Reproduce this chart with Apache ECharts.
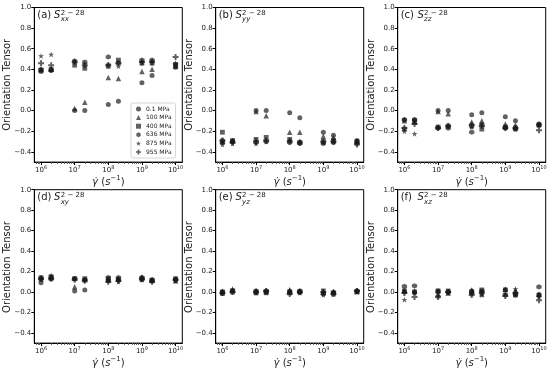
<!DOCTYPE html>
<html><head><meta charset="utf-8">
<script src="https://cdn.jsdelivr.net/npm/echarts@6/dist/echarts.min.js"></script>
<style>html,body{margin:0;padding:0;background:#fff}#c{width:550px;height:369px}</style>
</head><body><div id="c"></div>
<script>
// ---------- data ----------
const rates = [1e6, 2e6, 1e7, 2e7, 1e8, 2e8, 1e9, 2e9, 1e10];
const pressures = ['0.1 MPa', '100 MPa', '400 MPa', '636 MPa', '875 MPa', '955 MPa'];
const xTickExponents = [6, 7, 8, 9, 10];
const yTicks = [-0.4, -0.2, 0.0, 0.2, 0.4, 0.6, 0.8, 1.0];
const panelLabels = ['(a)', '(b)', '(c)', '(d)', '(e)', '(f)'];
const panelSubs = ['xx', 'yy', 'zz', 'xy', 'yz', 'xz'];
const panelSup = '2 − 28';
const yTitle = 'Orientation Tensor';

// rows: 0.1, 100, 400, 636, 875, 955 MPa ; columns follow `rates`
const Sxx = [
  [0.38, 0.39, 0.00, 0.00, 0.06, 0.09, 0.27, 0.34, 0.42],
  [0.40, 0.40, 0.02, 0.08, 0.32, 0.31, 0.38, 0.40, 0.43],
  [0.39, 0.40, 0.44, 0.41, 0.43, 0.49, 0.46, 0.46, 0.44],
  [0.40, 0.39, 0.48, 0.47, 0.52, 0.46, 0.49, 0.49, 0.45],
  [0.53, 0.545, 0.48, 0.45, 0.45, 0.43, 0.47, 0.48, 0.46],
  [0.46, 0.44, 0.47, 0.44, 0.44, 0.46, 0.47, 0.47, 0.52]
];
const Syy = [
  [-0.29, -0.30, 0.00, 0.00, -0.02, -0.07, -0.21, -0.24, -0.29],
  [-0.30, -0.29, -0.01, -0.05, -0.21, -0.21, -0.25, -0.26, -0.30],
  [-0.21, -0.29, -0.28, -0.26, -0.28, -0.31, -0.30, -0.29, -0.30],
  [-0.31, -0.30, -0.31, -0.30, -0.31, -0.32, -0.32, -0.31, -0.31],
  [-0.33, -0.32, -0.32, -0.30, -0.29, -0.30, -0.31, -0.30, -0.32],
  [-0.29, -0.31, -0.30, -0.29, -0.30, -0.31, -0.30, -0.30, -0.33]
];
const Szz = [
  [-0.09, -0.09, 0.00, 0.00, -0.04, -0.02, -0.06, -0.10, -0.13],
  [-0.10, -0.11, -0.01, -0.03, -0.11, -0.10, -0.13, -0.14, -0.13],
  [-0.18, -0.11, -0.16, -0.15, -0.15, -0.18, -0.16, -0.17, -0.14],
  [-0.09, -0.09, -0.17, -0.17, -0.21, -0.14, -0.17, -0.18, -0.14],
  [-0.20, -0.225, -0.16, -0.15, -0.16, -0.13, -0.16, -0.18, -0.14],
  [-0.17, -0.13, -0.17, -0.15, -0.14, -0.15, -0.17, -0.17, -0.19]
];
const Sxy = [
  [0.09, 0.13, 0.01, 0.02, 0.11, 0.12, 0.12, 0.11, 0.12],
  [0.13, 0.14, 0.05, 0.12, 0.12, 0.13, 0.15, 0.12, 0.11],
  [0.14, 0.15, 0.13, 0.13, 0.13, 0.12, 0.13, 0.11, 0.13],
  [0.13, 0.14, 0.13, 0.12, 0.14, 0.14, 0.14, 0.12, 0.12],
  [0.14, 0.16, 0.13, 0.12, 0.12, 0.10, 0.12, 0.11, 0.11],
  [0.13, 0.13, 0.12, 0.11, 0.10, 0.11, 0.13, 0.10, 0.12]
];
const Syz = [
  [0.00, 0.01, 0.00, 0.00, 0.00, 0.00, -0.01, -0.01, 0.01],
  [-0.01, 0.02, 0.01, 0.00, 0.02, 0.01, 0.00, 0.00, 0.01],
  [0.00, 0.00, -0.01, 0.00, -0.01, 0.00, 0.01, -0.02, 0.00],
  [-0.01, 0.01, 0.01, 0.01, 0.00, 0.01, -0.02, 0.00, 0.01],
  [0.01, 0.03, 0.00, -0.01, 0.02, -0.01, -0.03, 0.00, 0.00],
  [-0.01, 0.00, 0.00, 0.01, -0.02, 0.00, 0.00, -0.02, 0.01]
];
const Sxz = [
  [0.00, 0.00, 0.01, 0.00, 0.01, 0.00, 0.02, -0.03, -0.03],
  [0.02, 0.01, -0.02, -0.01, 0.02, -0.02, 0.03, 0.02, -0.02],
  [0.01, 0.00, 0.01, 0.01, 0.00, 0.02, 0.02, -0.03, -0.03],
  [0.055, 0.06, 0.00, 0.00, -0.01, 0.01, -0.03, -0.02, 0.05],
  [-0.075, -0.01, -0.04, -0.01, -0.02, -0.03, -0.02, 0.03, -0.05],
  [-0.01, -0.05, -0.05, 0.00, -0.03, -0.01, -0.04, -0.01, -0.08]
];
const panelData = [Sxx, Syy, Szz, Sxy, Syz, Sxz];

// ---------- styling ----------
const FONT = 'DejaVu Sans';
const INK = '#1a1a1a';
const MARK = 'rgba(25,25,25,0.85)';
const symbols = [
  'circle',
  'triangle',
  'rect',
  'path://M0,-1 L0.866,-0.5 L0.866,0.5 L0,1 L-0.866,0.5 L-0.866,-0.5 Z',
  'path://M0,-1 L0.2245,-0.309 L0.951,-0.309 L0.363,0.118 L0.588,0.809 L0,0.382 L-0.588,0.809 L-0.363,0.118 L-0.951,-0.309 L-0.2245,-0.309 Z',
  'path://M-1,-0.33 L-0.33,-0.33 L-0.33,-1 L0.33,-1 L0.33,-0.33 L1,-0.33 L1,0.33 L0.33,0.33 L0.33,1 L-0.33,1 L-0.33,0.33 L-1,0.33 Z'
];
const symbolSizes = [5, 5.5, 4.8, 5.3, 6, 6];

const lefts = [34.3, 215.7, 397.7];
const tops = [7.5, 189.7];
const W = 148, H = 154.6;
const XMIN = 5.8, XMAX = 10.2;

const fmtY = v => v.toFixed(1).replace('-', '−');

const minorTicks = [];
for (let e = 5; e <= 10; e++) for (let k = 2; k <= 9; k++) {
  const v = e + Math.log10(k);
  if (v > XMIN && v < XMAX) minorTicks.push(v);
}

const grids = [], xAxes = [], yAxes = [], series = [], graphics = [];
for (let p = 0; p < 6; p++) {
  const gl = lefts[p % 3], gt = tops[Math.floor(p / 3)];
  grids.push({left: gl, top: gt, width: W, height: H, show: true, borderColor: '#000', borderWidth: 1, backgroundColor: '#fff'});
  xAxes.push({
    gridIndex: p, type: 'value', min: XMIN, max: XMAX, position: 'bottom',
    axisLine: {show: true, onZero: false, lineStyle: {color: '#000', width: 1}},
    axisTick: {show: true, customValues: xTickExponents, length: 3},
    axisLabel: {customValues: xTickExponents, margin: 3, color: INK, formatter: v => '{b|10}{s|' + v + '}',
      rich: {b: {fontSize: 7, fontFamily: FONT, color: INK, verticalAlign: 'bottom'},
             s: {fontSize: 5, fontFamily: FONT, color: INK, verticalAlign: 'bottom', padding: [0, 0, 4, 0]}}},
    splitLine: {show: false},
    name: '{g|γ̇} {p|(}{i|s}{u|−1}{p|)}', nameLocation: 'middle', nameGap: 9,
    nameTextStyle: {rich: {g: {fontSize: 10, fontFamily: FONT, fontStyle: 'italic', color: INK, verticalAlign: 'bottom'},
             p: {fontSize: 10, fontFamily: FONT, color: INK, verticalAlign: 'bottom'},
             i: {fontSize: 10, fontFamily: FONT, fontStyle: 'italic', color: INK, verticalAlign: 'bottom'},
             u: {fontSize: 7, fontFamily: FONT, color: INK, verticalAlign: 'bottom', padding: [0, 0, 5, 0]}}}
  });
  xAxes.push({
    gridIndex: p, type: 'value', min: XMIN, max: XMAX, position: 'bottom',
    axisLine: {show: false, onZero: false},
    axisTick: {show: true, customValues: minorTicks, length: 1.8},
    axisLabel: {show: false}, splitLine: {show: false}
  });
  yAxes.push({
    gridIndex: p, type: 'value', min: -0.5, max: 1.0,
    axisLine: {show: true, onZero: false, lineStyle: {color: '#000', width: 1}},
    axisTick: {show: true, customValues: yTicks, length: 3},
    axisLabel: {customValues: yTicks, margin: 3, fontSize: 7, fontFamily: FONT, color: INK,
      hideOverlap: false, showMinLabel: true, showMaxLabel: true, formatter: fmtY},
    splitLine: {show: false}
  });
  const data = panelData[p];
  for (let i = 0; i < 6; i++) {
    series.push({
      type: 'scatter', name: pressures[i], xAxisIndex: 2 * p, yAxisIndex: p,
      symbol: symbols[i], symbolSize: symbolSizes[i],
      itemStyle: {color: MARK},
      data: rates.map((r, j) => [Math.log10(r), data[i][j]])
    });
  }
  graphics.push(
    {type: 'text', x: gl - 26.5, y: gt + H / 2, rotation: Math.PI / 2,
     style: {text: yTitle, font: '10px "DejaVu Sans"', fill: INK, align: 'center', verticalAlign: 'middle'}},
    {type: 'text', x: gl + 3, y: gt + 7.5, style: {text: panelLabels[p] + ' ', font: '10px "DejaVu Sans"', fill: INK, verticalAlign: 'middle'}},
    {type: 'text', x: gl + 19.7, y: gt + 7.5, style: {text: 'S', font: 'italic 10px "DejaVu Sans"', fill: INK, verticalAlign: 'middle'}},
    {type: 'text', x: gl + 26.4, y: gt + 5.6, style: {text: panelSup, font: '7px "DejaVu Sans"', fill: INK, verticalAlign: 'middle'}},
    {type: 'text', x: gl + 26.4, y: gt + 12, style: {text: panelSubs[p], font: 'italic 7px "DejaVu Sans"', fill: INK, verticalAlign: 'middle'}}
  );
}

const chart = echarts.init(document.getElementById('c'), null, {renderer: 'canvas'});
chart.setOption({
  animation: false,
  grid: grids, xAxis: xAxes, yAxis: yAxes, series: series,
  legend: {
    data: pressures, orient: 'vertical', left: 131, top: 103,
    itemWidth: 5, itemHeight: 5, itemGap: 2.6, itemTextGap: 6,
    padding: [3, 4, 3, 5], borderColor: '#cccccc', borderWidth: 0.8, borderRadius: 2,
    textStyle: {fontSize: 6, fontFamily: FONT, color: INK}
  },
  graphic: graphics
});

// keep every y tick label produced by the axes visible
const yLabelTexts = new Set(yTicks.map(fmtY));
function reveal(el) {
  if (el.style && typeof el.style.text === 'string' && yLabelTexts.has(el.style.text)) {
    el.ignore = false;
    el.invisible = false;
    if (el.style.opacity !== undefined && el.style.opacity < 1) el.style.opacity = 1;
    if (el.markRedraw) el.markRedraw();
  }
  if (el.childrenRef) el.childrenRef().forEach(reveal);
  const tc = el.getTextContent && el.getTextContent();
  if (tc) reveal(tc);
}
function revealAll() {
  chart.getZr().storage.getRoots().forEach(reveal);
  chart.getZr().refresh();
}
revealAll();
chart.on('finished', revealAll);
</script>
</body></html>
